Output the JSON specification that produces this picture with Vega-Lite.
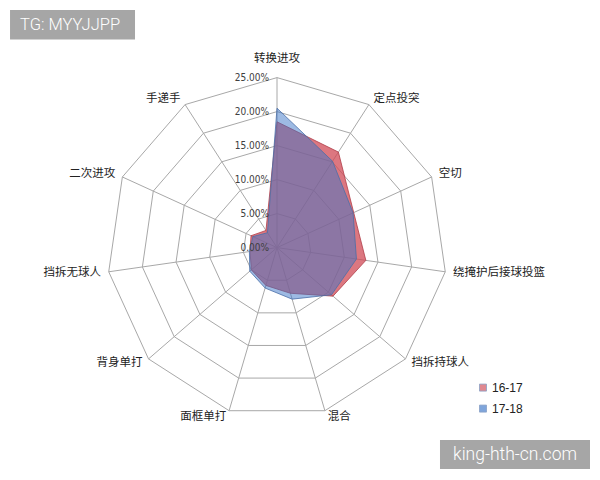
{
  "$schema": "https://vega.github.io/schema/vega-lite/v6.json",
  "width": 340,
  "height": 340,
  "autosize": "none",
  "padding": {"left": 107, "top": 77.6, "right": 153, "bottom": 62.4},
  "background": "white",
  "view": {"stroke": null},
  "config": {"axis": {"disable": true}, "font": "Noto Sans CJK SC"},
  "datasets": {
    "axes": [
      {"axis": "转换进攻", "k": 0},
      {"axis": "定点投突", "k": 1},
      {"axis": "空切", "k": 2},
      {"axis": "绕掩护后接球投篮", "k": 3},
      {"axis": "挡拆持球人", "k": 4},
      {"axis": "混合", "k": 5},
      {"axis": "面框单打", "k": 6},
      {"axis": "背身单打", "k": 7},
      {"axis": "挡拆无球人", "k": 8},
      {"axis": "二次进攻", "k": 9},
      {"axis": "手递手", "k": 10}
    ],
    "rings": [
      {"level": 5, "k": [0, 1, 2, 3, 4, 5, 6, 7, 8, 9, 10]},
      {"level": 10, "k": [0, 1, 2, 3, 4, 5, 6, 7, 8, 9, 10]},
      {"level": 15, "k": [0, 1, 2, 3, 4, 5, 6, 7, 8, 9, 10]},
      {"level": 20, "k": [0, 1, 2, 3, 4, 5, 6, 7, 8, 9, 10]},
      {"level": 25, "k": [0, 1, 2, 3, 4, 5, 6, 7, 8, 9, 10]}
    ],
    "ticks": [
      {"v": 0, "label": "0.00%"},
      {"v": 5, "label": "5.00%"},
      {"v": 10, "label": "10.00%"},
      {"v": 15, "label": "15.00%"},
      {"v": 20, "label": "20.00%"},
      {"v": 25, "label": "25.00%"}
    ],
    "scores": [
      {"axis": "转换进攻", "season": "16-17", "value": 18.5},
      {"axis": "定点投突", "season": "16-17", "value": 16.7},
      {"axis": "空切", "season": "16-17", "value": 12.4},
      {"axis": "绕掩护后接球投篮", "season": "16-17", "value": 13.2},
      {"axis": "挡拆持球人", "season": "16-17", "value": 10.9},
      {"axis": "混合", "season": "16-17", "value": 7.0},
      {"axis": "面框单打", "season": "16-17", "value": 5.8},
      {"axis": "背身单打", "season": "16-17", "value": 5.0},
      {"axis": "挡拆无球人", "season": "16-17", "value": 4.0},
      {"axis": "二次进攻", "season": "16-17", "value": 4.2},
      {"axis": "手递手", "season": "16-17", "value": 3.0},
      {"axis": "转换进攻", "season": "17-18", "value": 20.5},
      {"axis": "定点投突", "season": "17-18", "value": 15.1},
      {"axis": "空切", "season": "17-18", "value": 12.3},
      {"axis": "绕掩护后接球投篮", "season": "17-18", "value": 11.8},
      {"axis": "挡拆持球人", "season": "17-18", "value": 10.6},
      {"axis": "混合", "season": "17-18", "value": 7.9},
      {"axis": "面框单打", "season": "17-18", "value": 6.2},
      {"axis": "背身单打", "season": "17-18", "value": 5.3},
      {"axis": "挡拆无球人", "season": "17-18", "value": 4.1},
      {"axis": "二次进攻", "season": "17-18", "value": 3.9},
      {"axis": "手递手", "season": "17-18", "value": 2.6}
    ],
    "marks": [
      {"tag": "TG: MYYJJPP", "box": "a"},
      {"tag": "king-hth-cn.com", "box": "b"}
    ]
  },
  "layer": [
    {
      "data": {"name": "axes"},
      "transform": [
        {"calculate": "0", "as": "ox"},
        {"calculate": "0", "as": "oy"},
        {"calculate": "25*sin(2*PI*datum.k/11)", "as": "sx"},
        {"calculate": "25*cos(2*PI*datum.k/11)", "as": "sy"}
      ],
      "mark": {"type": "rule", "color": "#A8A8A8", "strokeWidth": 1},
      "encoding": {
        "x": {"field": "ox", "type": "quantitative", "scale": {"domain": [-25, 25], "nice": false, "zero": false}, "axis": null},
        "y": {"field": "oy", "type": "quantitative", "scale": {"domain": [-25, 25], "nice": false, "zero": false}, "axis": null},
        "x2": {"field": "sx"},
        "y2": {"field": "sy"}
      }
    },
    {
      "data": {"name": "rings"},
      "transform": [
        {"flatten": ["k"]},
        {"calculate": "datum.level*sin(2*PI*datum.k/11)", "as": "x"},
        {"calculate": "datum.level*cos(2*PI*datum.k/11)", "as": "y"}
      ],
      "mark": {"type": "line", "interpolate": "linear-closed", "color": "#A8A8A8", "strokeWidth": 1},
      "encoding": {
        "x": {"field": "x", "type": "quantitative", "axis": null},
        "y": {"field": "y", "type": "quantitative", "axis": null},
        "detail": {"field": "level", "type": "nominal"},
        "order": {"field": "k", "type": "quantitative"}
      }
    },
    {
      "data": {"name": "scores"},
      "transform": [
        {"filter": "datum.season === '16-17'"},
        {"lookup": "axis", "from": {"data": {"name": "axes"}, "key": "axis", "fields": ["k"]}},
        {"calculate": "datum.value*sin(2*PI*datum.k/11)", "as": "x"},
        {"calculate": "datum.value*cos(2*PI*datum.k/11)", "as": "y"}
      ],
      "mark": {"type": "line", "interpolate": "linear-closed", "fillOpacity": 0.75, "stroke": "#B03C48", "strokeWidth": 0.8},
      "encoding": {
        "x": {"field": "x", "type": "quantitative", "axis": null},
        "y": {"field": "y", "type": "quantitative", "axis": null},
        "order": {"field": "k", "type": "quantitative"},
        "fill": {
          "field": "season", "type": "nominal",
          "scale": {"domain": ["16-17", "17-18"], "range": ["#D04A55", "#3C76C8"]},
          "legend": {"orient": "none", "legendX": 370, "legendY": 304, "symbolType": "square", "symbolSize": 49, "symbolOpacity": 0.65, "symbolStrokeColor": "#666666", "symbolStrokeWidth": 0.8, "labelFontSize": 12, "labelFont": "Liberation Sans", "labelColor": "#222222", "labelOffset": 3, "title": null, "rowPadding": 9, "padding": 0}
        }
      }
    },
    {
      "data": {"name": "scores"},
      "transform": [
        {"filter": "datum.season === '17-18'"},
        {"lookup": "axis", "from": {"data": {"name": "axes"}, "key": "axis", "fields": ["k"]}},
        {"calculate": "datum.value*sin(2*PI*datum.k/11)", "as": "x"},
        {"calculate": "datum.value*cos(2*PI*datum.k/11)", "as": "y"}
      ],
      "mark": {"type": "line", "interpolate": "linear-closed", "fillOpacity": 0.5, "stroke": "#4A6FA8", "strokeWidth": 0.8},
      "encoding": {
        "x": {"field": "x", "type": "quantitative", "axis": null},
        "y": {"field": "y", "type": "quantitative", "axis": null},
        "order": {"field": "k", "type": "quantitative"},
        "fill": {"field": "season", "type": "nominal"}
      }
    },
    {
      "data": {"name": "ticks"},
      "transform": [{"calculate": "0", "as": "ox"}],
      "mark": {"type": "text", "align": "right", "baseline": "middle", "dx": -8, "fontSize": 10, "font": "Liberation Sans Narrow, DejaVu Sans Condensed, Liberation Sans", "color": "#404040"},
      "encoding": {
        "x": {"field": "ox", "type": "quantitative"},
        "y": {"field": "v", "type": "quantitative"},
        "text": {"field": "label", "type": "nominal"}
      }
    },
    {
      "data": {"name": "axes"},
      "transform": [
        {"filter": "datum.k === 0"},
        {"calculate": "26*sin(2*PI*datum.k/11)", "as": "lx"},
        {"calculate": "26*cos(2*PI*datum.k/11)", "as": "ly"}
      ],
      "mark": {"type": "text", "align": "center", "baseline": "middle", "dy": -12, "fontSize": 11.5, "font": "Noto Sans CJK SC", "color": "#222222"},
      "encoding": {
        "x": {"field": "lx", "type": "quantitative"},
        "y": {"field": "ly", "type": "quantitative"},
        "text": {"field": "axis", "type": "nominal"}
      }
    },
    {
      "data": {"name": "axes"},
      "transform": [
        {"filter": "datum.k >= 1 && datum.k <= 5"},
        {"calculate": "26*sin(2*PI*datum.k/11)", "as": "lx"},
        {"calculate": "26*cos(2*PI*datum.k/11)", "as": "ly"}
      ],
      "mark": {"type": "text", "align": "left", "baseline": "middle", "dx": 1, "fontSize": 11.5, "font": "Noto Sans CJK SC", "color": "#222222"},
      "encoding": {
        "x": {"field": "lx", "type": "quantitative"},
        "y": {"field": "ly", "type": "quantitative"},
        "text": {"field": "axis", "type": "nominal"}
      }
    },
    {
      "data": {"name": "axes"},
      "transform": [
        {"filter": "datum.k >= 6"},
        {"calculate": "26*sin(2*PI*datum.k/11)", "as": "lx"},
        {"calculate": "26*cos(2*PI*datum.k/11)", "as": "ly"}
      ],
      "mark": {"type": "text", "align": "right", "baseline": "middle", "dx": -1, "fontSize": 11.5, "font": "Noto Sans CJK SC", "color": "#222222"},
      "encoding": {
        "x": {"field": "lx", "type": "quantitative"},
        "y": {"field": "ly", "type": "quantitative"},
        "text": {"field": "axis", "type": "nominal"}
      }
    },
    {
      "data": {"name": "marks"},
      "transform": [
        {"calculate": "datum.box === 'a' ? -39.26 : 23.97", "as": "bx"},
        {"calculate": "datum.box === 'a' ? -20.88 : 46.03", "as": "bx2"},
        {"calculate": "datum.box === 'a' ? 34.94 : -28.29", "as": "by"},
        {"calculate": "datum.box === 'a' ? 30.6 : -32.56", "as": "by2"}
      ],
      "mark": {"type": "rect", "color": "#A6A6A6"},
      "encoding": {
        "x": {"field": "bx", "type": "quantitative"},
        "x2": {"field": "bx2"},
        "y": {"field": "by", "type": "quantitative"},
        "y2": {"field": "by2"}
      }
    },
    {
      "data": {"name": "marks"},
      "transform": [
        {"filter": "datum.box === 'a'"},
        {"calculate": "-37.79", "as": "tx"},
        {"calculate": "32.74", "as": "ty"}
      ],
      "mark": {"type": "text", "align": "left", "baseline": "middle", "fontSize": 16.5, "font": "Roboto, Liberation Sans", "fontWeight": 300, "color": "#FFFFFF"},
      "encoding": {
        "x": {"field": "tx", "type": "quantitative"},
        "y": {"field": "ty", "type": "quantitative"},
        "text": {"field": "tag", "type": "nominal"}
      }
    },
    {
      "data": {"name": "marks"},
      "transform": [
        {"filter": "datum.box === 'b'"},
        {"calculate": "35.0", "as": "tx"},
        {"calculate": "-30.5", "as": "ty"}
      ],
      "mark": {"type": "text", "align": "center", "baseline": "middle", "fontSize": 17.5, "font": "Roboto, Liberation Sans", "fontWeight": 300, "color": "#FFFFFF"},
      "encoding": {
        "x": {"field": "tx", "type": "quantitative"},
        "y": {"field": "ty", "type": "quantitative"},
        "text": {"field": "tag", "type": "nominal"}
      }
    }
  ]
}
